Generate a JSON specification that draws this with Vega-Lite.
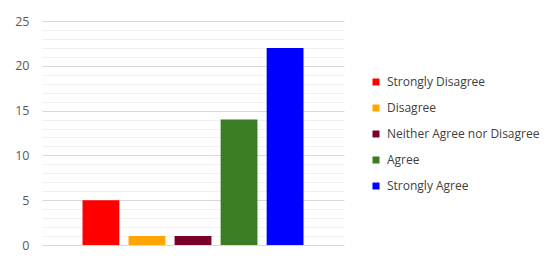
{
  "$schema": "https://vega.github.io/schema/vega-lite/v6.json",
  "autosize": "none",
  "width": 302,
  "height": 224,
  "padding": {"left": 42, "top": 21, "right": 206, "bottom": 22},
  "background": "white",
  "data": {
    "values": [
      {"response": "Strongly Disagree", "count": 5},
      {"response": "Disagree", "count": 1},
      {"response": "Neither Agree nor Disagree", "count": 1},
      {"response": "Agree", "count": 14},
      {"response": "Strongly Agree", "count": 22}
    ]
  },
  "mark": {"type": "bar"},
  "encoding": {
    "x": {
      "field": "response",
      "type": "nominal",
      "sort": null,
      "axis": null,
      "scale": {"paddingInner": 0.2, "paddingOuter": 0.88}
    },
    "y": {
      "field": "count",
      "type": "quantitative",
      "scale": {"domain": [0, 25], "nice": false},
      "axis": {
        "title": null,
        "values": [0,1,2,3,4,5,6,7,8,9,10,11,12,13,14,15,16,17,18,19,20,21,22,23,24,25],
        "labelExpr": "datum.value % 5 === 0 ? datum.label : ''",
        "domain": false,
        "ticks": false,
        "labelPadding": 13,
        "labelFont": "Open Sans",
        "labelFontSize": 12.5,
        "labelColor": "#595959",
        "grid": true,
        "gridColor": {"condition": {"test": "datum.value % 5 === 0", "value": "#d9d9d9"}, "value": "#f0f0f0"},
        "gridWidth": 1
      }
    },
    "color": {
      "field": "response",
      "type": "nominal",
      "sort": null,
      "scale": {
        "domain": ["Strongly Disagree", "Disagree", "Neither Agree nor Disagree", "Agree", "Strongly Agree"],
        "range": ["#ff0000", "#ffa500", "#7a0028", "#3b7d23", "#0000ff"]
      },
      "legend": {
        "title": null,
        "orient": "none",
        "legendX": 328,
        "legendY": 55,
        "padding": 0,
        "symbolType": "square",
        "symbolSize": 49,
        "symbolStrokeWidth": 0,
        "labelFont": "Open Sans",
        "labelFontSize": 12,
        "labelColor": "#404040",
        "labelOffset": 5,
        "rowPadding": 14
      }
    }
  },
  "config": {"view": {"stroke": null}}
}
